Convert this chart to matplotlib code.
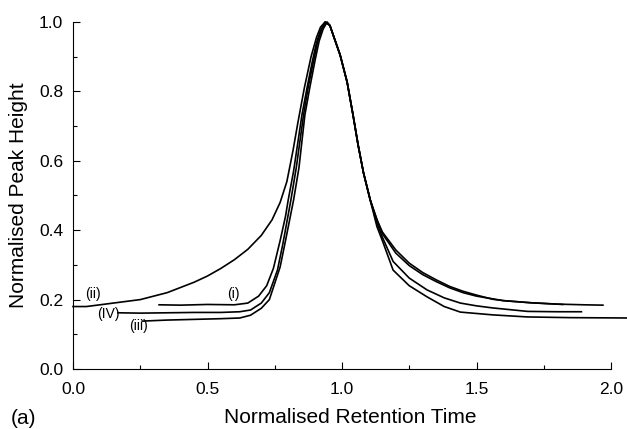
import matplotlib
matplotlib.use("Agg")
from matplotlib import pyplot as plt
from matplotlib.ticker import MultipleLocator

plt.rcParams["font.family"] = ["Liberation Sans", "DejaVu Sans"]

# trace (i)
time_i = [0.32, 0.40, 0.50, 0.60, 0.65, 0.69, 0.72, 0.745, 0.77, 0.79, 0.80, 0.82,
          0.851, 0.87, 0.888, 0.905, 0.92, 0.937, 0.955, 0.967, 0.993, 1.019, 1.041, 1.06,
          1.08, 1.105, 1.13, 1.15, 1.20, 1.25, 1.30, 1.35, 1.40, 1.45, 1.50, 1.56,
          1.60, 1.70, 1.80, 1.90, 1.97]
height_i = [0.185, 0.184, 0.186, 0.185, 0.19, 0.21, 0.24, 0.29, 0.37, 0.44, 0.487, 0.57,
            0.732, 0.81, 0.88, 0.94, 0.975, 1.0, 0.99, 0.963, 0.905, 0.827, 0.732, 0.645,
            0.565, 0.487, 0.43, 0.395, 0.343, 0.305, 0.278, 0.257, 0.238, 0.224, 0.213, 0.201,
            0.197, 0.191, 0.187, 0.185, 0.184]

# trace (ii)
time_ii = [0.0, 0.05, 0.10, 0.15, 0.20, 0.25, 0.30, 0.35, 0.40, 0.45, 0.50, 0.55,
           0.60, 0.65, 0.70, 0.74, 0.77, 0.795, 0.818, 0.836, 0.86, 0.885, 0.905,
           0.92, 0.937, 0.955, 0.967, 0.993, 1.019, 1.041, 1.06, 1.08, 1.105, 1.13, 1.15,
           1.20, 1.25, 1.30, 1.35, 1.40, 1.45, 1.50, 1.60, 1.70, 1.82]
height_ii = [0.18, 0.18, 0.185, 0.19, 0.195, 0.20, 0.21, 0.22, 0.235, 0.25, 0.268, 0.29,
             0.315, 0.345, 0.385, 0.43, 0.48, 0.54, 0.63, 0.71, 0.81, 0.90, 0.955,
             0.985, 1.0, 0.99, 0.963, 0.905, 0.827, 0.732, 0.645, 0.565, 0.487, 0.43, 0.39,
             0.334, 0.298, 0.272, 0.252, 0.234, 0.22, 0.21, 0.197, 0.191, 0.186]

# trace (iii)
time_iii = [0.257, 0.35, 0.45, 0.55, 0.62, 0.66, 0.70, 0.73, 0.77, 0.79, 0.82, 0.84,
            0.862, 0.88, 0.90, 0.915, 0.93, 0.945, 0.955, 0.967, 0.993, 1.019, 1.041, 1.06,
            1.08, 1.105, 1.13, 1.15, 1.19, 1.25, 1.316, 1.38, 1.44, 1.56, 1.69, 1.85, 2.06]
height_iii = [0.138, 0.141, 0.143, 0.145, 0.147, 0.155, 0.175, 0.20, 0.294, 0.37, 0.487, 0.58,
              0.732, 0.81, 0.89, 0.945, 0.98, 1.0, 0.99, 0.963, 0.905, 0.827, 0.732, 0.645,
              0.565, 0.487, 0.41, 0.37, 0.285, 0.24, 0.208, 0.18, 0.164, 0.156, 0.150, 0.148, 0.147]

# trace (iv)
time_iv = [0.167, 0.25, 0.35, 0.45, 0.55, 0.62, 0.66, 0.70, 0.73, 0.76, 0.78, 0.81,
           0.83, 0.857, 0.875, 0.895, 0.91, 0.925, 0.94, 0.955, 0.967, 0.993, 1.019, 1.041,
           1.06, 1.08, 1.105, 1.13, 1.15, 1.19, 1.25, 1.316, 1.38, 1.44, 1.50, 1.56,
           1.69, 1.80, 1.89]
height_iv = [0.162, 0.161, 0.162, 0.163, 0.163, 0.165, 0.17, 0.19, 0.22, 0.285, 0.36, 0.487,
             0.58, 0.732, 0.815, 0.89, 0.945, 0.98, 1.0, 0.99, 0.963, 0.905, 0.827, 0.732,
             0.645, 0.565, 0.487, 0.42, 0.38, 0.31, 0.262, 0.228, 0.205, 0.19, 0.182, 0.176,
             0.166, 0.165, 0.165]

traces = [(time_i, height_i), (time_ii, height_ii), (time_iii, height_iii), (time_iv, height_iv)]

trace_labels = ["(i)", "(ii)", "(iii)", "(IV)"]
label_x = [0.595, 0.074, 0.242, 0.130]
label_y = [0.216, 0.216, 0.124, 0.159]

fig = plt.figure(figsize=(6.27, 4.29), dpi=100)
ax = fig.add_axes([73 / 627, 60 / 429, 554 / 627, 347 / 429])

for t, h in traces:
    ax.plot(t, h, color="black", linewidth=1.2, clip_on=False)

for text, x, y in zip(trace_labels, label_x, label_y):
    ax.text(x, y, text, fontsize=10, ha="center", va="center")

ax.set_xlim(0, 554 / 269)
ax.set_ylim(0, 1.0)
ax.spines["top"].set_visible(False)
ax.spines["right"].set_visible(False)
ax.spines["bottom"].set_bounds(0, 2.0)
ax.set_xticks([0.0, 0.5, 1.0, 1.5, 2.0])
ax.set_yticks([0.0, 0.2, 0.4, 0.6, 0.8, 1.0])
ax.xaxis.set_minor_locator(MultipleLocator(0.25))
ax.yaxis.set_minor_locator(MultipleLocator(0.1))
ax.tick_params(which="both", direction="in", labelsize=12.5)
ax.tick_params(which="major", length=5, width=0.8)
ax.tick_params(which="minor", length=3, width=0.8)
ax.tick_params(axis="x", pad=9)
ax.tick_params(axis="y", pad=7)
ax.set_xticklabels(["0.0", "0.5", "1.0", "1.5", "2.0"])
ax.set_yticklabels(["0.0", "0.2", "0.4", "0.6", "0.8", "1.0"])

ax.set_xlabel("Normalised Retention Time", fontsize=15, labelpad=8)
ax.set_ylabel("Normalised Peak Height", fontsize=15, labelpad=8)
fig.text(24 / 627, 1 - 419 / 429, "(a)", fontsize=15, ha="center", va="center")

fig.savefig("out.png", dpi=100)
